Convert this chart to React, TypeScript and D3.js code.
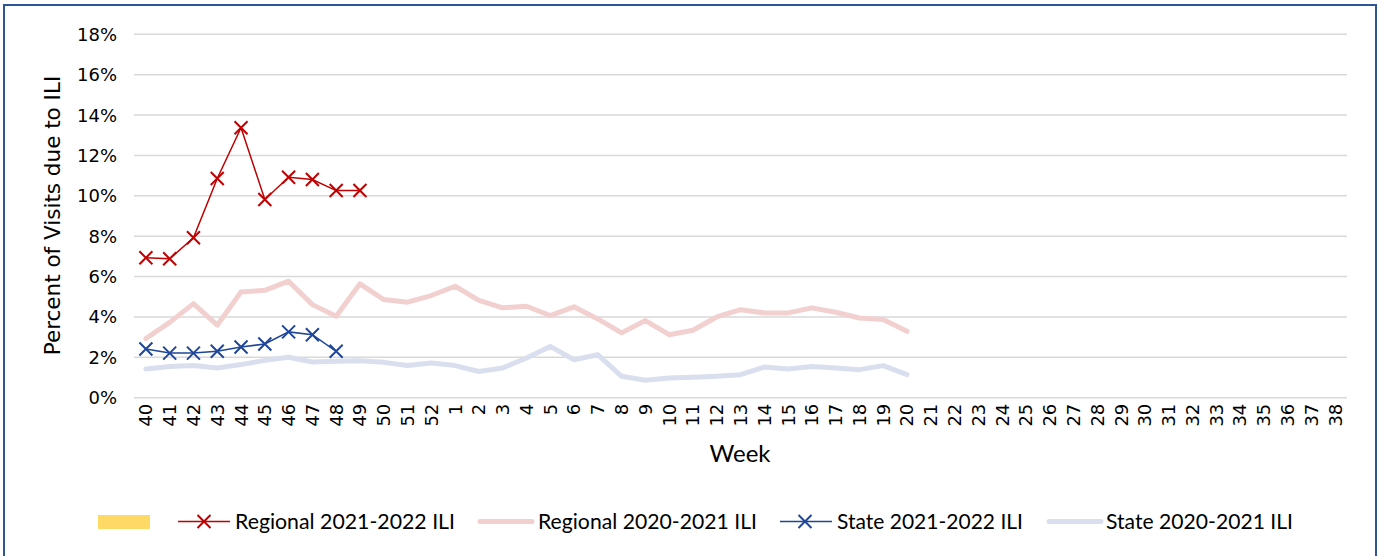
import React from 'react';
import * as d3 from 'd3';

// week labels along the x axis (season runs week 40 -> week 38)
const weeks: string[] = [
  '40', '41', '42', '43', '44', '45', '46', '47', '48', '49', '50', '51', '52',
  '1', '2', '3', '4', '5', '6', '7', '8', '9', '10', '11', '12', '13', '14', '15',
  '16', '17', '18', '19', '20', '21', '22', '23', '24', '25', '26', '27', '28',
  '29', '30', '31', '32', '33', '34', '35', '36', '37', '38',
];

// percent of visits due to ILI, starting at week 40
const regional2122: number[] = [6.93, 6.88, 7.92, 10.86, 13.37, 9.82, 10.92, 10.81, 10.26, 10.26];
const state2122: number[] = [2.41, 2.21, 2.21, 2.3, 2.51, 2.66, 3.26, 3.12, 2.3];
const regional2021: number[] = [
  2.93, 3.73, 4.66, 3.59, 5.24, 5.32, 5.77, 4.61, 4.03, 5.64, 4.86, 4.73, 5.06,
  5.52, 4.82, 4.45, 4.53, 4.07, 4.5, 3.9, 3.21, 3.82, 3.12, 3.34, 4.0, 4.36, 4.2,
  4.2, 4.45, 4.23, 3.95, 3.87, 3.29,
];
const state2021: number[] = [
  1.42, 1.55, 1.6, 1.47, 1.64, 1.85, 2.0, 1.77, 1.8, 1.83, 1.75, 1.59, 1.72,
  1.59, 1.3, 1.47, 1.97, 2.54, 1.88, 2.13, 1.06, 0.86, 0.98, 1.01, 1.06, 1.14,
  1.52, 1.42, 1.55, 1.47, 1.39, 1.59, 1.14,
];

const yTicks: number[] = [0, 2, 4, 6, 8, 10, 12, 14, 16, 18];

const RED = '#C00000';
const BLUE = '#1F4699';
const PINK = '#F3D0D0';
const PALE = '#D9DFEE';
const YELLOW = '#FFD966';

const W = 1382;
const H = 556;
const plot = { left: 134, right: 1347, top: 34.3, bottom: 397.7 };

const axisFont = '"DejaVu Sans", Verdana, sans-serif';
const labelFont = 'Lato, "Open Sans", sans-serif';

const Cross: React.FC<{ x: number; y: number; color: string; r?: number }> = ({ x, y, color, r = 6.5 }) => (
  <path
    d={`M${x - r},${y - r}L${x + r},${y + r}M${x - r},${y + r}L${x + r},${y - r}`}
    stroke={color}
    strokeWidth={2}
    fill="none"
  />
);

const LegendText: React.FC<{ x: number; y: number; len: number; children: string }> = ({ x, y, len, children }) => (
  <text
    x={x}
    y={y}
    dy="0.36em"
    fontFamily={labelFont}
    fontSize={22}
    textLength={len}
    lengthAdjust="spacingAndGlyphs"
    fill="#000"
  >
    {children}
  </text>
);

const App: React.FC = () => {
  const xBand = d3.scaleBand<string>().domain(weeks).range([plot.left, plot.right]).padding(0);
  const x = (i: number) => (xBand(weeks[i]) as number) + xBand.bandwidth() / 2;
  const y = d3.scaleLinear().domain([0, 18]).range([plot.bottom, plot.top]);

  const line = d3
    .line<number>()
    .x((_, i) => x(i))
    .y((d) => y(d));

  const legendY = 521.5;

  return (
    <svg
      width={W}
      height={H}
      style={{ position: 'absolute', left: 0, top: 0, background: '#fff' }}
    >
      <rect x={0} y={0} width={W} height={H} fill="#fff" />
      {/* frame */}
      <rect x={4} y={5} width={1372} height={570} fill="none" stroke="#2F5597" strokeWidth={2} />

      {/* gridlines + y labels */}
      {yTicks.map((t) => (
        <g key={t}>
          <line x1={plot.left} x2={plot.right} y1={y(t)} y2={y(t)} stroke="#D9D9D9" strokeWidth={1.6} />
          <text
            x={117}
            y={y(t)}
            dy="0.36em"
            textAnchor="end"
            fontFamily={axisFont}
            fontSize={18}
            fill="#000"
          >
            {t}%
          </text>
        </g>
      ))}

      {/* x labels */}
      {weeks.map((w, i) => (
        <text
          key={w}
          transform={`translate(${x(i)},${plot.bottom + 6}) rotate(-90)`}
          dy="0.36em"
          textAnchor="end"
          fontFamily={axisFont}
          fontSize={18}
          fill="#000"
        >
          {w}
        </text>
      ))}

      <text
        transform={`translate(52,215.5) rotate(-90)`}
        dy="0.36em"
        textAnchor="middle"
        fontFamily={axisFont}
        fontSize={21.5}
        fill="#000"
      >
        Percent of Visits due to ILI
      </text>
      <text x={740} y={453} dy="0.36em" textAnchor="middle" fontFamily={labelFont} fontSize={24} fill="#000">
        Week
      </text>

      {/* last season (pale) */}
      <path d={line(regional2021) || ''} fill="none" stroke={PINK} strokeWidth={5} strokeLinejoin="round" strokeLinecap="round" />
      <path d={line(state2021) || ''} fill="none" stroke={PALE} strokeWidth={5} strokeLinejoin="round" strokeLinecap="round" />

      {/* current season */}
      <path d={line(regional2122) || ''} fill="none" stroke={RED} strokeWidth={1.5} />
      {regional2122.map((v, i) => (
        <Cross key={`r${i}`} x={x(i)} y={y(v)} color={RED} />
      ))}
      <path d={line(state2122) || ''} fill="none" stroke={BLUE} strokeWidth={1.5} />
      {state2122.map((v, i) => (
        <Cross key={`s${i}`} x={x(i)} y={y(v)} color={BLUE} />
      ))}

      {/* legend */}
      <rect x={98} y={515} width={52} height={14} fill={YELLOW} />

      <line x1={178} x2={230} y1={legendY} y2={legendY} stroke={RED} strokeWidth={1.5} />
      <Cross x={204} y={legendY} color={RED} />
      <LegendText x={235} y={legendY} len={220}>Regional 2021-2022 ILI</LegendText>

      <line x1={480} x2={532} y1={legendY} y2={legendY} stroke={PINK} strokeWidth={5} strokeLinecap="round" />
      <LegendText x={538} y={legendY} len={219}>Regional 2020-2021 ILI</LegendText>

      <line x1={780} x2={832} y1={legendY} y2={legendY} stroke={BLUE} strokeWidth={1.5} />
      <Cross x={805} y={legendY} color={BLUE} />
      <LegendText x={837} y={legendY} len={186}>State 2021-2022 ILI</LegendText>

      <line x1={1049} x2={1101} y1={legendY} y2={legendY} stroke={PALE} strokeWidth={5} strokeLinecap="round" />
      <LegendText x={1106} y={legendY} len={187}>State 2020-2021 ILI</LegendText>
    </svg>
  );
};

export default App;
